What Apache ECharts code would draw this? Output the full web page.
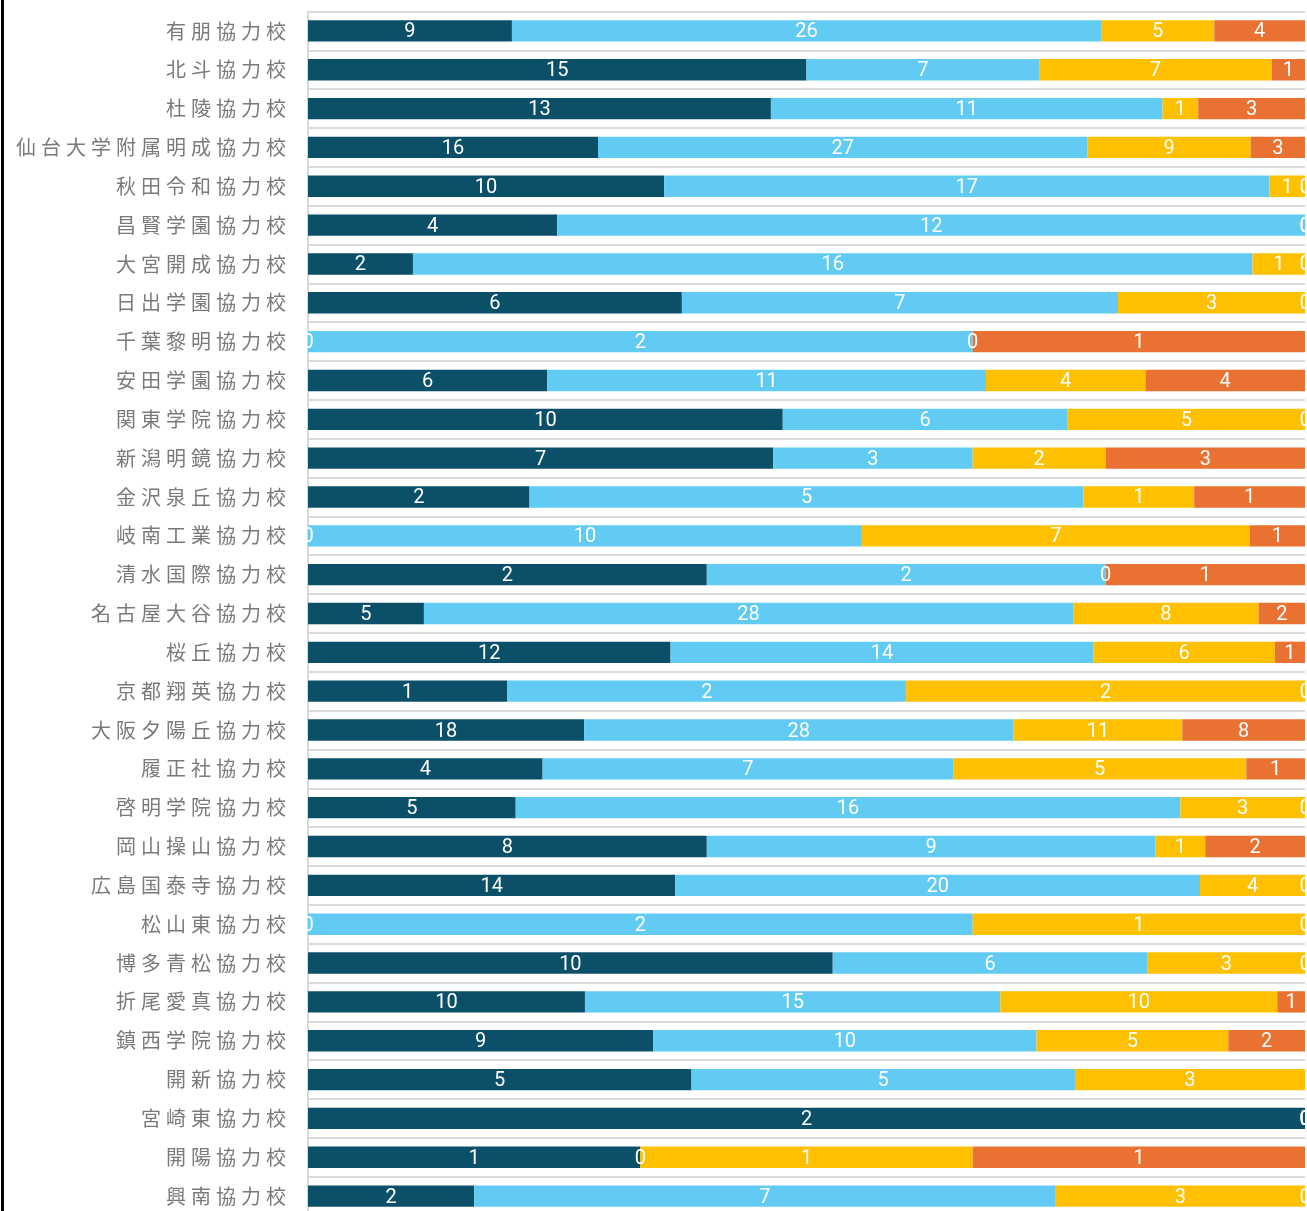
<!DOCTYPE html>
<html>
<head>
<meta charset="utf-8">
<script src="https://cdn.jsdelivr.net/npm/echarts@6/dist/echarts.min.js"></script>
<style>
  html, body { margin: 0; padding: 0; background: #fff; overflow: hidden; }
  /* a bit taller than the window: the last row runs off the bottom edge, as in the original */
  #chart { width: 1307px; height: 1222px; }
</style>
</head>
<body>
<div id="chart"></div>
<script>
const schools = [
  '有朋協力校', '北斗協力校', '杜陵協力校', '仙台大学附属明成協力校', '秋田令和協力校',
  '昌賢学園協力校', '大宮開成協力校', '日出学園協力校', '千葉黎明協力校', '安田学園協力校',
  '関東学院協力校', '新潟明鏡協力校', '金沢泉丘協力校', '岐南工業協力校', '清水国際協力校',
  '名古屋大谷協力校', '桜丘協力校', '京都翔英協力校', '大阪夕陽丘協力校', '履正社協力校',
  '啓明学院協力校', '岡山操山協力校', '広島国泰寺協力校', '松山東協力校', '博多青松協力校',
  '折尾愛真協力校', '鎮西学院協力校', '開新協力校', '宮崎東協力校', '開陽協力校', '興南協力校'
];

const seriesA = [9, 15, 13, 16, 10, 4, 2, 6, 0, 6, 10, 7, 2, 0, 2, 5, 12, 1, 18, 4, 5, 8, 14, 0, 10, 10, 9, 5, 2, 1, 2];
const seriesB = [26, 7, 11, 27, 17, 12, 16, 7, 2, 11, 6, 3, 5, 10, 2, 28, 14, 2, 28, 7, 16, 9, 20, 2, 6, 15, 10, 5, 0, 0, 7];
const seriesC = [5, 7, 1, 9, 1, 0, 1, 3, 0, 4, 5, 2, 1, 7, 0, 8, 6, 2, 11, 5, 3, 1, 4, 1, 3, 10, 5, 3, 0, 1, 3];
const seriesD = [4, 1, 3, 3, 0, 0, 0, 0, 1, 4, 0, 3, 1, 1, 1, 2, 1, 0, 8, 1, 0, 2, 0, 0, 0, 1, 2, 0, 0, 1, 0];

const colors = ['#0b5068', '#61cbf3', '#ffc000', '#e97132'];

const raw = [seriesA, seriesB, seriesC, seriesD];
const totals = schools.map((_, i) => raw.reduce((s, arr) => s + arr[i], 0));

// spread the characters out a little, like the original axis text
function spaced(text) {
  return text.split('').join('\u2005');
}

const chart = echarts.init(document.getElementById('chart'));

const option = {
  backgroundColor: '#fff',
  animation: false,
  grid: { left: 308, right: 2, top: 11.5, height: 1204, containLabel: false },
  xAxis: {
    type: 'value',
    min: 0,
    max: 100,
    show: false
  },
  yAxis: {
    type: 'category',
    inverse: true,
    data: schools,
    axisLine: { show: true, lineStyle: { color: '#d9d9d9', width: 2 } },
    axisTick: { show: false },
    splitLine: { show: true, lineStyle: { color: '#d9d9d9', width: 2 } },
    axisLabel: {
      color: '#7a7a7a',
      fontSize: 20,
      fontFamily: '"Noto Sans CJK JP", sans-serif',
      margin: 22,
      formatter: (v) => spaced(v)
    }
  },
  graphic: [
    { type: 'rect', left: 1, top: 0, shape: { width: 3, height: 1222 }, style: { fill: '#000' } }
  ],
  series: raw.map((arr, k) => ({
    type: 'bar',
    stack: 'total',
    barWidth: '55%',
    itemStyle: { color: colors[k] },
    label: {
      show: true,
      position: 'inside',
      color: '#fff',
      fontSize: 20,
      offset: [0, 1.5],
      fontFamily: 'Roboto, "Liberation Sans", sans-serif',
      formatter: (p) => String(arr[p.dataIndex])
    },
    data: arr.map((v, i) => totals[i] ? (v / totals[i]) * 100 : 0)
  }))
};

chart.setOption(option);
</script>
</body>
</html>
